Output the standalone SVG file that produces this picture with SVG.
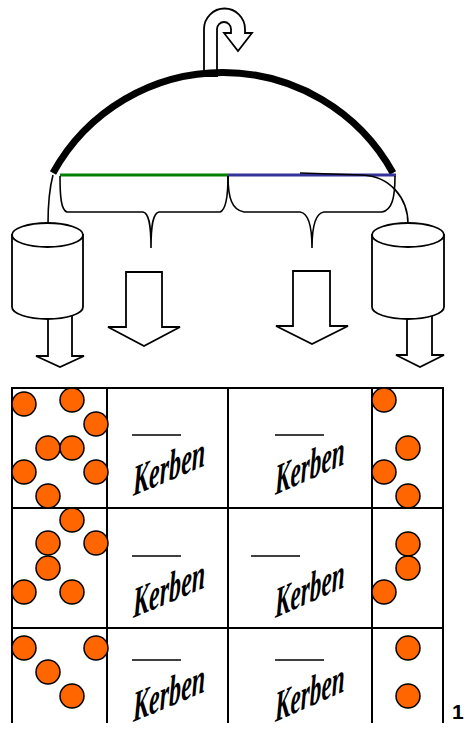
<svg xmlns="http://www.w3.org/2000/svg" width="466" height="731" viewBox="0 0 466 731">
  <style>
    .ln { fill: none; stroke: #000; stroke-width: 1.6; }
    .shape { fill: #fff; stroke: #000; stroke-width: 1.8; stroke-linejoin: miter; }
    .grid { stroke: #000; stroke-width: 2; }
    .bead { fill: #FF6600; stroke: #000; stroke-width: 1.5; }
    .bar { stroke: #000; stroke-width: 1.3; }
    .kerben { font-family: "Liberation Serif", "Times New Roman", serif; font-weight: bold; font-style: italic; font-size: 43px; fill: #000; }
  </style>
  <defs>
    <circle id="bead" r="12" class="bead"/>
  </defs>
  <rect width="466" height="731" fill="#fff"/>

  <!-- U-turn arrow on top of the dome -->
  <g id="turn">
    <path class="shape" d="M204,76 L204,29 A20.5,20.5 0 0 1 245,29 L245,33 L252,33 L238,51 L224,33 L231,33 L231,29 A7,7 0 0 0 217,29 L217,76 Z"/>
  </g>

  <!-- dome -->
  <g id="dome">
    <path d="M53,173 A194,194 0 0 1 393,173" fill="none" stroke="#000" stroke-width="7"/>
  </g>

  <!-- coloured base segments -->
  <g id="segments">
    <line x1="60" y1="175" x2="228" y2="175" stroke="#008000" stroke-width="3"/>
    <line x1="228" y1="175" x2="396" y2="175" stroke="#333399" stroke-width="3"/>
  </g>

  <!-- connectors: braces, feed lines, arrows -->
  <g id="connectors">
    <path class="ln" d="M60,176 C60,196 61,210 67,212 L143,212 C149,213 151,225 151,248 C151,225 153,213 159,212 L220,212 C226,210 228,196 228,176"/>
    <path class="ln" d="M228,176 C228,198 232,210 244,212 L300,212 C308,213 312,225 312,248 C312,225 316,213 324,212 L382,212 C392,210 395,198 395,176"/>
    <path class="ln" d="M53,175 C49,190 48,205 48,224"/>
    <path class="ln" d="M300,173 L362,175 C390,176 408,198 408,224"/>
    <path class="shape" d="M126,272 L162,272 L162,327 L180,327 L144,346 L108,327 L126,327 Z"/>
    <path class="shape" d="M293,271 L330,271 L330,326 L348,326 L312,344 L276,326 L293,326 Z"/>
    <path class="shape" d="M48,312 L72,312 L72,356 L84,356 L60,367 L36,356 L48,356 Z"/>
    <path class="shape" d="M407,312 L432,312 L432,355 L444,355 L420,367 L396,355 L407,355 Z"/>
  </g>

  <!-- storage cylinders -->
  <g id="cylinder-left">
    <path class="shape" d="M12,235 L12,307 A35.5,12 0 0 0 83,307 L83,235 Z"/>
    <ellipse class="shape" cx="47.5" cy="235" rx="35.5" ry="12"/>
  </g>
  <g id="cylinder-right">
    <path class="shape" d="M372,235 L372,307 A36,12 0 0 0 444,307 L444,235 Z"/>
    <ellipse class="shape" cx="408" cy="235" rx="36" ry="12"/>
  </g>

  <!-- table grid -->
  <g id="grid" class="grid">
    <line x1="11" y1="388" x2="444" y2="388"/>
    <line x1="11" y1="508" x2="444" y2="508"/>
    <line x1="11" y1="628" x2="444" y2="628"/>
    <line x1="12" y1="388" x2="12" y2="723"/>
    <line x1="107" y1="388" x2="107" y2="723"/>
    <line x1="228" y1="388" x2="228" y2="723"/>
    <line x1="372" y1="388" x2="372" y2="723"/>
    <line x1="443" y1="388" x2="443" y2="723"/>
  </g>

  <!-- beads, left column -->
  <g id="beads-left">
    <use href="#bead" x="24" y="404"/>
    <use href="#bead" x="72" y="400"/>
    <use href="#bead" x="96" y="424"/>
    <use href="#bead" x="48" y="448"/>
    <use href="#bead" x="72" y="448"/>
    <use href="#bead" x="24" y="472"/>
    <use href="#bead" x="96" y="472"/>
    <use href="#bead" x="48" y="496"/>
    <use href="#bead" x="72" y="520"/>
    <use href="#bead" x="48" y="543"/>
    <use href="#bead" x="96" y="543"/>
    <use href="#bead" x="48" y="568"/>
    <use href="#bead" x="24" y="592"/>
    <use href="#bead" x="72" y="592"/>
    <use href="#bead" x="24" y="648"/>
    <use href="#bead" x="96" y="648"/>
    <use href="#bead" x="48" y="672"/>
    <use href="#bead" x="72" y="696"/>
  </g>

  <!-- beads, right column -->
  <g id="beads-right">
    <use href="#bead" x="384" y="400"/>
    <use href="#bead" x="408" y="448"/>
    <use href="#bead" x="384" y="472"/>
    <use href="#bead" x="408" y="496"/>
    <use href="#bead" x="408" y="544"/>
    <use href="#bead" x="408" y="568"/>
    <use href="#bead" x="384" y="592"/>
    <use href="#bead" x="408" y="648"/>
    <use href="#bead" x="408" y="696"/>
  </g>

  <!-- blanks and labels -->
  <g id="labels">
    <line class="bar" x1="132" y1="435" x2="181" y2="435"/>
    <line class="bar" x1="275" y1="435" x2="324" y2="435"/>
    <line class="bar" x1="132" y1="556" x2="181" y2="556"/>
    <line class="bar" x1="251" y1="556" x2="300" y2="556"/>
    <line class="bar" x1="132" y1="660" x2="181" y2="660"/>
    <line class="bar" x1="275" y1="660" x2="324" y2="660"/>
    <text class="kerben" transform="translate(133,496) skewY(-23) scale(0.56,1)">Kerben</text>
    <text class="kerben" transform="translate(275,495) skewY(-24) scale(0.54,1)">Kerben</text>
    <text class="kerben" transform="translate(133,618) skewY(-23) scale(0.56,1)">Kerben</text>
    <text class="kerben" transform="translate(275,618) skewY(-24) scale(0.54,1)">Kerben</text>
    <text class="kerben" transform="translate(133,722) skewY(-23) scale(0.56,1)">Kerben</text>
    <text class="kerben" transform="translate(275,722) skewY(-24) scale(0.54,1)">Kerben</text>
  </g>
  <!-- page number -->
  <text x="452" y="719" font-family="'Liberation Sans', Arial, sans-serif" font-weight="bold" font-size="21" fill="#000">1</text>
</svg>
